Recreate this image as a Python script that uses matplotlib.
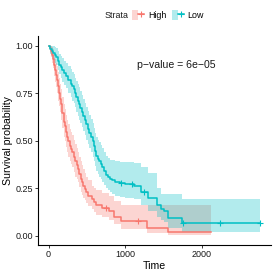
import numpy as np
import matplotlib
matplotlib.use("Agg")
import matplotlib.pyplot as plt
from matplotlib.lines import Line2D
from matplotlib.patches import Patch
from matplotlib.legend_handler import HandlerTuple

plt.rcParams['font.family'] = ['Liberation Sans', 'DejaVu Sans']

# Kaplan-Meier steps
high_time = [0, 15, 30, 45, 60, 75, 90, 100, 110, 125, 140, 150, 165, 180, 200,
             215, 230, 245, 260, 280, 295, 310, 330, 350, 365, 385, 400, 420, 435, 450,
             470, 490, 520, 560, 590, 620, 700, 790, 850, 950, 1280, 1560, 2120]
high_surv = [1, .985, .97, .95, .93, .90, .87, .845, .82, .785, .75, .72, .69, .645, .60,
             .575, .545, .52, .495, .47, .455, .44, .415, .39, .37, .35, .325, .30, .28, .26,
             .245, .23, .21, .19, .175, .16, .145, .13, .10, .074, .037, .016, .016]
high_lower = [1, .96, .94, .91, .88, .84, .81, .78, .75, .71, .68, .65, .61, .565, .52,
              .495, .465, .44, .415, .39, .375, .36, .335, .31, .295, .28, .255, .23, .215, .20,
              .185, .17, .155, .14, .125, .11, .095, .08, .06, .035, .012, .003, .003]
high_upper = [1, 1, 1, .99, .98, .96, .93, .91, .89, .86, .83, .80, .77, .73, .69,
              .665, .635, .61, .585, .56, .545, .53, .505, .48, .46, .44, .415, .39, .37, .35,
              .33, .31, .29, .26, .25, .24, .225, .21, .18, .16, .16, .16, .16]
high_censor = [750, 1160]

low_time = [0, 20, 40, 60, 80, 100, 120, 140, 160, 180, 205, 230, 260, 295, 310,
            330, 345, 360, 380, 400, 415, 430, 450, 470, 490, 510, 530, 555, 575, 590,
            605, 620, 640, 660, 680, 700, 725, 750, 775, 800, 830, 860, 930, 1000, 1120,
            1200, 1300, 1420, 1460, 1500, 1560, 1740, 2760]
low_surv = [1, .98, .97, .96, .95, .94, .92, .90, .885, .87, .855, .84, .82, .80, .785,
            .77, .75, .73, .71, .69, .67, .65, .63, .61, .585, .56, .54, .52, .495, .47,
            .445, .42, .405, .39, .375, .36, .34, .32, .31, .30, .29, .28, .275, .27, .26,
            .23, .20, .16, .14, .13, .09, .068, .068]
low_lower = [1, .955, .94, .925, .91, .895, .87, .85, .83, .81, .79, .775, .75, .73, .71,
             .695, .675, .65, .63, .61, .59, .57, .55, .53, .505, .48, .46, .44, .415, .39,
             .365, .34, .325, .31, .295, .28, .265, .25, .24, .23, .22, .21, .205, .20, .19,
             .16, .13, .10, .08, .07, .04, .02, .02]
low_upper = [1, 1, 1, .995, .99, .985, .97, .955, .945, .935, .92, .91, .89, .875, .86,
             .85, .83, .815, .795, .78, .76, .74, .72, .70, .675, .655, .635, .615, .59, .565,
             .54, .52, .505, .49, .475, .46, .44, .42, .41, .40, .395, .39, .385, .385, .38,
             .36, .33, .25, .22, .22, .22, .19, .19]
low_censor = [950, 1090, 1250, 1750, 2235, 2760]

strata = ["High", "Low"]
colors = ["#F8766D", "#00BFC4"]
pval_text = "p\u2212value = 6e\u221205"

fig = plt.figure(figsize=(2.75, 2.75), dpi=100)
ax = fig.add_axes([0.138, 0.109, 0.847, 0.76])

groups = [(high_time, high_surv, high_lower, high_upper, high_censor),
          (low_time, low_surv, low_lower, low_upper, low_censor)]

# ribbons first, then the step lines on top
for (t, s, lo, up, cens), col in zip(groups, colors):
    ax.fill_between(t, lo, up, step='post', color=col, alpha=0.3, lw=0)
for (t, s, lo, up, cens), col in zip(groups, colors):
    ax.step(t, s, where='post', color=col, lw=1.1)
    idx = np.searchsorted(t, cens, side='right') - 1
    ax.plot(cens, np.array(s)[idx], ls='none', marker='+', ms=4, mew=0.8, color=col)

ax.text(1150, 0.895, pval_text, fontsize=7.6, ha='left', va='center', color='#1a1a1a')

ax.set_xlim(-138, 2898)
ax.set_ylim(-0.05, 1.05)
ax.set_xticks([0, 1000, 2000])
ax.set_yticks([0, 0.25, 0.5, 0.75, 1.0])
ax.set_yticklabels(["0.00", "0.25", "0.50", "0.75", "1.00"])
ax.tick_params(labelsize=6.5, length=2.2, width=0.6, colors='#1a1a1a', pad=1.5)
for side in ['top', 'right']:
    ax.spines[side].set_visible(False)
for side in ['left', 'bottom']:
    ax.spines[side].set_linewidth(0.8)
ax.set_xlabel("Time", fontsize=7.6, labelpad=1)
ax.set_ylabel("Survival probability", fontsize=7.6, labelpad=2)

# legend on top: "Strata" title to the left of the keys
handles = []
for col in colors:
    handles.append((Patch(facecolor=col, alpha=0.3, lw=0),
                    Line2D([], [], color=col, lw=1.1, marker='+', ms=4, mew=0.8)))
fig.text(117 / 275, 1 - 15 / 275, "Strata", fontsize=6.4, ha='center', va='center',
         color='#1a1a1a')
fig.legend(handles, strata, handler_map={tuple: HandlerTuple(ndivide=None, pad=0)},
           loc='center left', bbox_to_anchor=(132 / 275, 1 - 15 / 275), ncol=2,
           frameon=False, fontsize=6.4, handlelength=1.35, handleheight=1.35,
           handletextpad=0.45, columnspacing=0.6, borderpad=0, borderaxespad=0)

fig.savefig("out.png", dpi=100)
